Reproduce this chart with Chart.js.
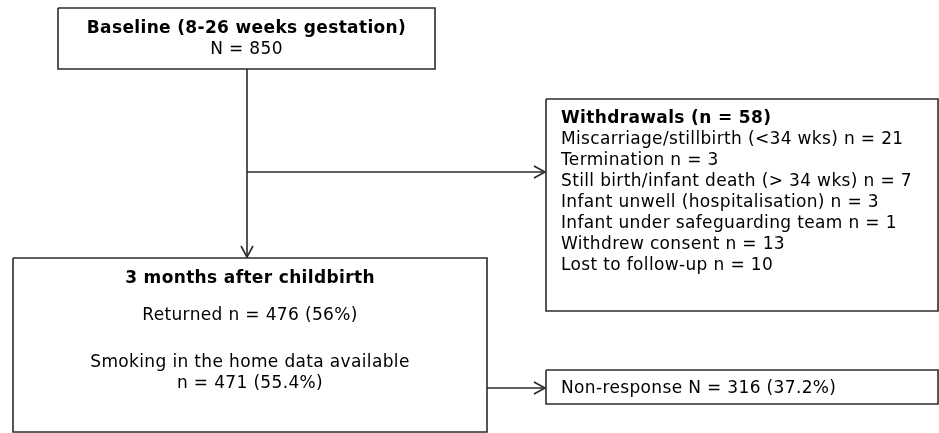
<!DOCTYPE html>
<html>
<head>
<meta charset="utf-8">
<script src="https://cdn.jsdelivr.net/npm/chart.js@4"></script>
<style>
  html, body { margin: 0; padding: 0; background: #fff; }
  #flow { display: block; background: #fff; }
</style>
</head>
<body>
<canvas id="flow" width="939" height="433"></canvas>
<script>
// flow numbers
const baselineTitle = 'Baseline (8-26 weeks gestation)';
const baselineN = 850;
const withdrawalTotal = 58;
const withdrawalReasons = [
  'Miscarriage/stillbirth (<34 wks)', 'Termination', 'Still birth/infant death (> 34 wks)',
  'Infant unwell (hospitalisation)', 'Infant under safeguarding team', 'Withdrew consent', 'Lost to follow-up'
];
const withdrawalCounts = [21, 3, 7, 3, 1, 13, 10];
const followupTitle = '3 months after childbirth';
const returnedN = 476, returnedPct = '56%';
const smokingN = 471, smokingPct = '55.4%';
const nonResponseN = 316, nonResponsePct = '37.2%';

// layout (page units, y down)
const L = {
  base:  { x0: 58,  y0: 8,   x1: 435, y1: 69 },
  wd:    { x0: 546, y0: 99,  x1: 938, y1: 311 },
  fu:    { x0: 13,  y0: 258, x1: 487, y1: 432 },
  nr:    { x0: 546, y0: 370, x1: 938, y1: 404 },
  trunkX: 247, branchY: 172, nrY: 388
};
const INK = '#2b2b2b', FONT = '"DejaVu Sans", Verdana, sans-serif', FS = 17;

function rect(b) { return [{x:b.x0,y:b.y0},{x:b.x1,y:b.y0},{x:b.x1,y:b.y1},{x:b.x0,y:b.y1},{x:b.x0,y:b.y0}]; }
function seg(pts) { return { data: pts, showLine: true, borderColor: INK, borderWidth: 1.6, pointRadius: 0, clip: false, fill: false }; }

const datasets = [
  seg(rect(L.base)), seg(rect(L.wd)), seg(rect(L.fu)), seg(rect(L.nr)),
  seg([{x:L.trunkX,y:L.base.y1},{x:L.trunkX,y:L.fu.y0-1}]),
  seg([{x:L.trunkX-6,y:L.fu.y0-12},{x:L.trunkX,y:L.fu.y0-1},{x:L.trunkX+6,y:L.fu.y0-12}]),
  seg([{x:L.trunkX,y:L.branchY},{x:L.wd.x0-1,y:L.branchY}]),
  seg([{x:L.wd.x0-12,y:L.branchY-6},{x:L.wd.x0-1,y:L.branchY},{x:L.wd.x0-12,y:L.branchY+6}]),
  seg([{x:L.fu.x1,y:L.nrY},{x:L.nr.x0-1,y:L.nrY}]),
  seg([{x:L.nr.x0-12,y:L.nrY-6},{x:L.nr.x0-1,y:L.nrY},{x:L.nr.x0-12,y:L.nrY+6}])
];

const textPlugin = {
  id: 'flowText',
  afterDraw(chart) {
    const { ctx, scales: { x, y } } = chart;
    const put = (s, px, py, bold, align) => {
      ctx.font = (bold ? 'bold ' : '') + FS + 'px ' + FONT;
      ctx.letterSpacing = '0.35px';
      ctx.textAlign = align || 'center';
      ctx.textBaseline = 'alphabetic';
      ctx.fillText(s, x.getPixelForValue(px), y.getPixelForValue(py));
    };
    ctx.save();
    ctx.fillStyle = '#000';
    const cb = (L.base.x0 + L.base.x1) / 2;
    put(baselineTitle, cb, 33, true);
    put('N = ' + baselineN, cb, 54, false);
    const lx = 561;
    put('Withdrawals (n = ' + withdrawalTotal + ')', lx, 123, true, 'left');
    withdrawalReasons.forEach((r, i) => put(r + ' n = ' + withdrawalCounts[i], lx, 144 + i * 21, false, 'left'));
    const cf = 250;
    put(followupTitle, cf, 283, true);
    put('Returned n = ' + returnedN + ' (' + returnedPct + ')', cf, 320, false);
    put('Smoking in the home data available', cf, 367, false);
    put('n = ' + smokingN + ' (' + smokingPct + ')', cf, 388, false);
    put('Non-response N = ' + nonResponseN + ' (' + nonResponsePct + ')', lx, 393, false, 'left');
    ctx.restore();
  }
};

new Chart(document.getElementById('flow'), {
  type: 'scatter',
  data: { datasets },
  options: {
    responsive: false, animation: false, devicePixelRatio: 1,
    layout: { padding: 0 },
    plugins: { legend: { display: false }, tooltip: { enabled: false } },
    scales: {
      x: { type: 'linear', min: 0, max: 939, display: false },
      y: { type: 'linear', min: 0, max: 433, reverse: true, display: false }
    }
  },
  plugins: [textPlugin]
});
</script>
</body>
</html>
